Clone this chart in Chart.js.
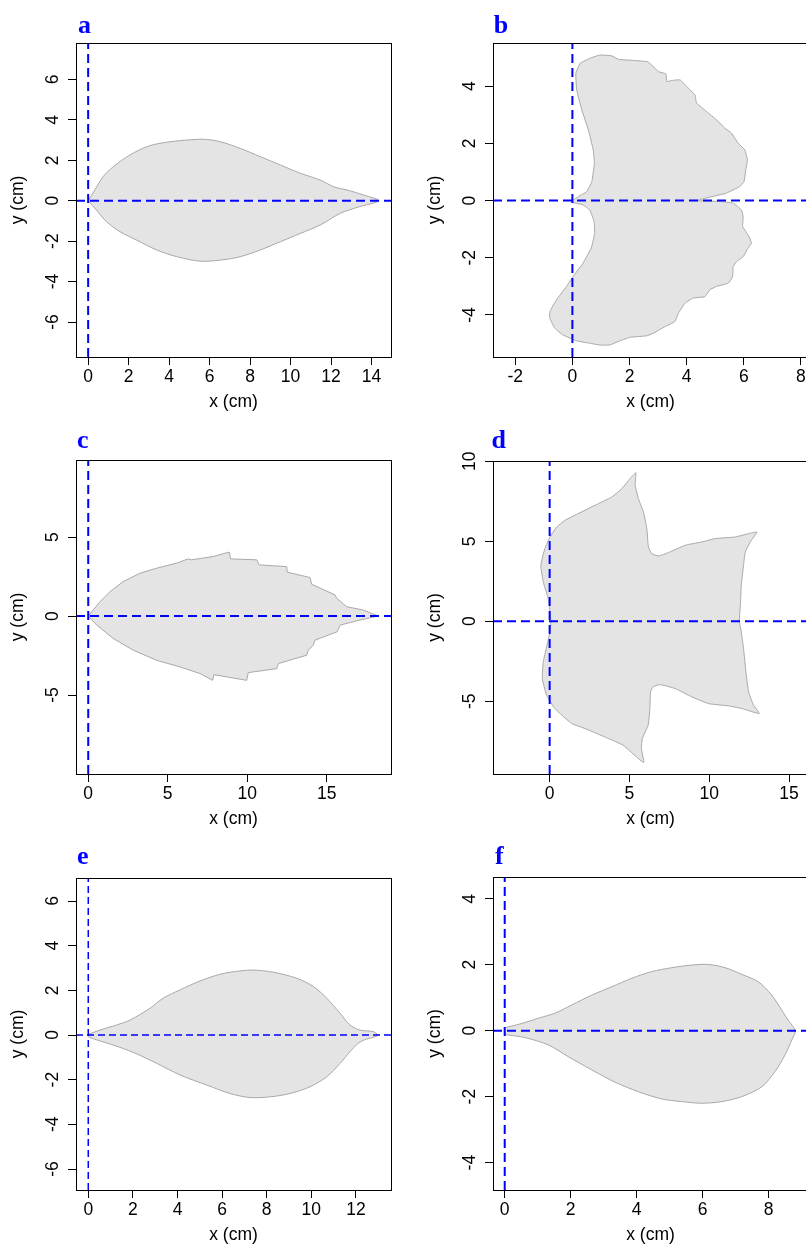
<!DOCTYPE html>
<html><head><meta charset="utf-8">
<script src="https://cdn.jsdelivr.net/npm/chart.js@4"></script>
<style>
html,body{margin:0;padding:0;background:#fff;overflow:hidden;}
#wrap{position:relative;width:806px;height:1245px;overflow:hidden;background:#fff;}
#wrap canvas{position:absolute;}
</style></head><body><div id="wrap"></div>
<script>
// ---------- DATA ----------
const panelLabels = ['a','b','c','d','e','f'];
const xTitle = 'x (cm)';
const yTitle = 'y (cm)';

// panel a
const aX = [0,0.33,0.74,1.24,2.06,2.89,3.55,4.54,5.69,6.52,7.51,8.5,9.49,10.48,11.47,12.13,12.79,13.61,14.36,13.29,12.46,11.47,10.48,9.49,8.5,7.51,6.52,5.53,4.38,3.39,2.4,1.57,0.91,0.41,0];
const aY = [0,0.53,1.19,1.68,2.26,2.67,2.84,2.97,3.04,2.92,2.59,2.18,1.77,1.36,1.02,0.69,0.53,0.28,0,-0.33,-0.62,-1.2,-1.62,-2.03,-2.44,-2.77,-2.94,-2.99,-2.77,-2.44,-1.95,-1.53,-1.04,-0.46,0];
const aXTicks = [0,2,4,6,8,10,12,14];
const aYTicks = [-6,-4,-2,0,2,4,6];
const aXLim = [-0.6, 14.96];
const aYLim = [-7.73, 7.8];

// panel b
const bX = [0,0.21,0.5,0.68,0.77,0.73,0.56,0.33,0.15,0.12,0.27,0.62,0.97,1.38,1.61,2.13,2.62,2.78,3.01,3.28,3.3,3.48,3.77,4.06,4.29,4.35,4.7,5.05,5.34,5.57,5.8,6.04,6.13,6.07,6.01,5.86,5.39,4.81,4.35,
  5.16,5.63,5.92,5.98,5.96,6.07,6.21,6.27,6.15,5.98,5.75,5.63,5.61,5.46,5.05,4.81,4.64,4.23,3.94,3.71,3.59,3.24,2.83,2.6,2.02,1.67,1.31,0.96,0.61,0.14,-0.33,-0.62,-0.79,-0.79,-0.56,-0.21,0.02,0.37,0.66,0.78,0.76,0.61,0.37,0.02,0];
const bY = [0,0.14,0.31,0.66,1.31,1.77,2.47,3.17,3.87,4.45,4.8,4.98,5.09,5.06,4.94,4.9,4.86,4.74,4.51,4.43,4.16,4.2,4.22,3.93,3.7,3.41,3.11,2.82,2.53,2.36,2.01,1.77,1.42,1.07,0.66,0.49,0.26,0.12,0,
  -0.03,-0.09,-0.33,-0.56,-0.91,-1.08,-1.31,-1.49,-1.66,-1.96,-2.13,-2.31,-2.66,-2.89,-3.0,-3.12,-3.36,-3.41,-3.59,-3.94,-4.23,-4.41,-4.64,-4.73,-4.78,-4.9,-5.05,-5.05,-4.99,-4.9,-4.7,-4.46,-4.11,-3.88,-3.47,-3.01,-2.66,-2.19,-1.66,-1.14,-0.73,-0.33,-0.15,-0.07,0];
const bXTicks = [-2,0,2,4,6,8];
const bYTicks = [-4,-2,0,2,4];
const bXLim = [-2.78, 8.25];
const bYLim = [-5.47, 5.51];

// panel c
const cX = [0,0.31,0.74,1.37,2.2,3.25,4.3,5.56,6.29,6.5,7.87,8.87,8.96,10.6,10.76,12.49,12.52,13.95,14.06,15.53,15.63,16.26,17.31,18.25,17.12,15.86,15.65,14.26,14.16,13.85,13.74,11.96,11.86,10.07,9.97,7.91,7.83,7.03,5.77,4.3,2.83,1.57,0.53,0];
const cY = [0,0.38,0.91,1.54,2.18,2.71,3.03,3.35,3.62,3.56,3.77,4.05,3.62,3.56,3.24,3.13,2.78,2.44,2.01,1.34,1.13,0.59,0.38,0,-0.25,-0.57,-1.0,-1.53,-1.84,-2.16,-2.48,-3.01,-3.33,-3.58,-4.07,-3.71,-4.07,-3.64,-3.22,-2.8,-2.16,-1.42,-0.57,0];
const cXTicks = [0,5,10,15];
const cYTicks = [-5,0,5];
const cXLim = [-0.77, 19.05];
const cYLim = [-10.0, 9.88];

// panel d
const dX = [11.88,11.95,12.01,12.15,12.26,12.57,12.99,12.47,11.63,10.38,9.54,8.49,7.44,6.82,6.4,6.19,6.09,5.88,5.56,5.36,5.4,5.04,4.52,3.89,2.84,1.59,0.96,0.44,0.02,-0.3,-0.55,-0.4,-0.09,0.02,0.08,0.02,-0.19,-0.4,-0.46,-0.19,0.33,1.38,2.22,3.68,4.6,5.44,5.9,5.75,5.81,6.17,6.28,6.32,6.48,6.9,7.87,8.91,9.96,11.21,12.05,13.14,12.78,12.47,12.3,12.15,12.01,11.88];
const dY = [0,1.0,2.25,3.5,4.33,4.96,5.58,5.48,5.27,5.17,4.96,4.75,4.29,4.08,4.23,4.64,5.79,6.83,7.67,8.5,9.29,8.92,8.29,7.77,7.25,6.63,6.31,5.89,5.27,4.54,3.5,2.46,1.42,0.58,0,-0.67,-1.61,-2.54,-3.58,-4.63,-5.46,-6.39,-6.71,-7.33,-7.75,-8.48,-8.83,-7.96,-7.33,-6.5,-5.46,-4.42,-4.1,-3.96,-4.21,-4.73,-5.15,-5.29,-5.46,-5.77,-5.25,-4.42,-3.17,-1.71,-0.67,0];
const dXTicks = [0,5,10,15];
const dYTicks = [-5,0,5,10];
const dXLim = [-3.55, 16.19];
const dYLim = [-9.55, 10.02];

// panel e
const eX = [0,0.52,1.27,1.87,2.77,3.36,4.11,5.01,5.91,6.8,7.4,8.3,9.35,10.09,10.69,11.29,11.73,12.18,12.78,12.98,12.9,12.48,12.1,11.73,11.29,10.69,9.94,9.04,8.15,7.25,6.35,5.31,4.11,3.07,2.02,1.12,0.38,0,0];
const eY = [0.03,0.22,0.45,0.67,1.2,1.65,2.02,2.42,2.72,2.87,2.91,2.81,2.54,2.17,1.65,0.97,0.45,0.22,0.15,0,-0.07,-0.18,-0.37,-0.75,-1.27,-1.87,-2.32,-2.62,-2.77,-2.8,-2.62,-2.24,-1.79,-1.27,-0.78,-0.45,-0.22,-0.07,0.03];
const eXTicks = [0,2,4,6,8,10,12];
const eYTicks = [-6,-4,-2,0,2,4,6];
const eXLim = [-0.55, 13.57];
const eYLim = [-6.94, 7.03];

// panel f
const fX = [0,0.52,1.02,1.52,2.03,2.64,3.24,3.85,4.45,5.06,5.67,6.17,6.68,7.18,7.69,8.09,8.39,8.59,8.8,8.7,8.49,8.19,7.79,7.18,6.58,5.97,5.36,4.76,4.05,3.34,2.64,1.93,1.32,0.62,0.11,0,0];
const fY = [0.09,0.22,0.38,0.53,0.78,1.08,1.33,1.59,1.79,1.91,1.99,2.01,1.91,1.71,1.48,1.08,0.63,0.32,0,-0.28,-0.74,-1.24,-1.7,-2.0,-2.15,-2.2,-2.15,-2.07,-1.85,-1.56,-1.19,-0.79,-0.43,-0.21,-0.13,-0.1,0.09];
const fXTicks = [0,2,4,6,8];
const fYTicks = [-4,-2,0,2,4];
const fXLim = [-0.355, 9.19];
const fYLim = [-4.83, 4.66];

// ---------- LAYOUT / STYLE ----------
const FONT = "'Liberation Sans', Arial, sans-serif";
const FS = 17.5;
const panels = [
  {label:panelLabels[0], xs:aX, ys:aY, xt:aXTicks, yt:aYTicks, xl:aXLim, yl:aYLim, col:0,row:0, box:[76,43,391,357], lab:[78,33], tension:0.3, dashW:2, dash:[9,5], yPad:6.7},
  {label:panelLabels[1], xs:bX, ys:bY, xt:bXTicks, yt:bYTicks, xl:bXLim, yl:bYLim, col:1,row:0, box:[493,43,808,357], lab:[90.7,33.3], tension:0.1, dashW:2, dash:[9,5], yPad:6.7},
  {label:panelLabels[2], xs:cX, ys:cY, xt:cXTicks, yt:cYTicks, xl:cXLim, yl:cYLim, col:0,row:1, box:[76,460,391,774], lab:[77,33.3], tension:0, dashW:2, dash:[9,5], yPad:6.7},
  {label:panelLabels[3], xs:dX, ys:dY, xt:dXTicks, yt:dYTicks, xl:dXLim, yl:dYLim, col:1,row:1, box:[493,461,808,774], lab:[88.5,33.3], tension:0.15, dashW:2, dash:[9,5], yPad:4.8},
  {label:panelLabels[4], xs:eX, ys:eY, xt:eXTicks, yt:eYTicks, xl:eXLim, yl:eYLim, col:0,row:2, box:[76,878,391,1190], lab:[77,34], tension:0.3, dashW:1.5, dash:[7,4], yPad:6.7},
  {label:panelLabels[5], xs:fX, ys:fY, xt:fXTicks, yt:fYTicks, xl:fXLim, yl:fYLim, col:1,row:2, box:[493,877,808,1190], lab:[92,34.3], tension:0.3, dashW:2, dash:[9,5], yPad:6.7}
];
const colLeft = [0, 403];
const colWidth = [403, 420];
const rowTop = [0, 415, 830];
const CH = 430;
const XAXIS_H = 60;

const frameAndLabel = {
  id: 'frameAndLabel',
  afterDraw(chart, args, opts) {
    const ctx = chart.ctx, ca = chart.chartArea;
    ctx.save();
    ctx.strokeStyle = '#000';
    ctx.lineWidth = 1;
    ctx.strokeRect(ca.left + 0.5, ca.top + 0.5, ca.right - ca.left, ca.bottom - ca.top);
    ctx.font = "bold 26px 'Liberation Serif', 'Times New Roman', serif";
    ctx.fillStyle = '#0000ff';
    ctx.textBaseline = 'alphabetic';
    ctx.textAlign = 'left';
    ctx.fillText(opts.text, opts.x, opts.y);
    ctx.restore();
  }
};

const wrap = document.getElementById('wrap');

function makePanel(p) {
  const W = colWidth[p.col], H = CH;
  const ox = colLeft[p.col], oy = rowTop[p.row];
  const cv = document.createElement('canvas');
  cv.width = W; cv.height = H;
  cv.style.left = ox + 'px'; cv.style.top = oy + 'px';
  cv.style.width = W + 'px'; cv.style.height = H + 'px';
  wrap.appendChild(cv);
  const L = p.box[0] - ox, T = p.box[1] - oy, R = p.box[2] - ox, B = p.box[3] - oy;
  const pts = p.xs.map((x, i) => ({x: x, y: p.ys[i]}));
  const tickFont = {family: FONT, size: FS};
  new Chart(cv, {
    type: 'line',
    data: {datasets: [
      {data: [{x: p.xl[0], y: 0}, {x: p.xl[1], y: 0}], borderColor: '#0000ff', borderWidth: p.dashW, borderDash: p.dash, pointRadius: 0, fill: false, order: 0},
      {data: [{x: 0, y: p.yl[0]}, {x: 0, y: p.yl[1]}], borderColor: '#0000ff', borderWidth: p.dashW, borderDash: p.dash, pointRadius: 0, fill: false, order: 0},
      {data: pts, fill: 'shape', backgroundColor: '#e4e4e4', borderColor: '#a8a8a8', borderWidth: 1, pointRadius: 0, tension: p.tension, order: 1}
    ]},
    options: {
      responsive: false, animation: false, devicePixelRatio: 1, events: [],
      layout: {padding: {left: 0, top: T, right: W - R, bottom: H - B - XAXIS_H}},
      plugins: {legend: {display: false}, tooltip: {enabled: false}, title: {display: false},
        frameAndLabel: {text: p.label, x: p.lab[0], y: p.lab[1]}},
      scales: {
        x: {
          type: 'linear', position: 'bottom', min: p.xl[0], max: p.xl[1],
          afterBuildTicks: s => { s.ticks = p.xt.map(v => ({value: v})); },
          afterFit: s => { s.height = XAXIS_H; },
          ticks: {padding: 2, color: '#000', font: tickFont, maxRotation: 0, minRotation: 0, autoSkip: false, callback: v => String(v)},
          grid: {display: true, drawOnChartArea: false, drawTicks: true, tickLength: 8, color: '#000', tickColor: '#000', lineWidth: 1},
          border: {display: false},
          title: {display: true, text: xTitle, color: '#000', font: tickFont, padding: {top: 0, bottom: 4.1}}
        },
        y: {
          type: 'linear', position: 'left', min: p.yl[0], max: p.yl[1],
          afterBuildTicks: s => { s.ticks = p.yt.map(v => ({value: v})); },
          afterFit: s => { s.width = L; },
          ticks: {padding: p.yPad, color: '#000', font: tickFont, minRotation: 90, maxRotation: 90, crossAlign: 'center', autoSkip: false, callback: v => String(v)},
          grid: {display: true, drawOnChartArea: false, drawTicks: true, tickLength: 8, color: '#000', tickColor: '#000', lineWidth: 1},
          border: {display: false},
          title: {display: true, text: yTitle, color: '#000', font: tickFont, padding: {top: L - 68, bottom: 0}}
        }
      }
    },
    plugins: [frameAndLabel]
  });
}

panels.forEach(makePanel);
</script>
</body></html>
